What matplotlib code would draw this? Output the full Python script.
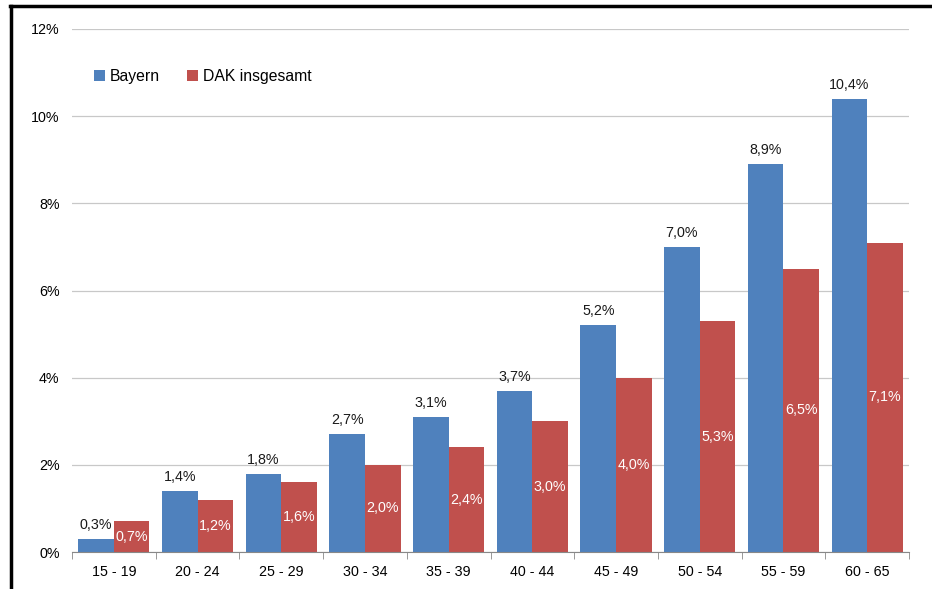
import matplotlib.pyplot as plt
import numpy as np
from matplotlib.lines import Line2D

plt.rcParams['font.family'] = ['Liberation Sans', 'DejaVu Sans']

# Daten
altersgruppen = ['15 - 19', '20 - 24', '25 - 29', '30 - 34', '35 - 39',
                 '40 - 44', '45 - 49', '50 - 54', '55 - 59', '60 - 65']
bayern = [0.3, 1.4, 1.8, 2.7, 3.1, 3.7, 5.2, 7.0, 8.9, 10.4]
dak = [0.7, 1.2, 1.6, 2.0, 2.4, 3.0, 4.0, 5.3, 6.5, 7.1]

blau = '#4F81BD'
rot = '#C0504D'

fig = plt.figure(figsize=(9.32, 5.89), dpi=100)
ax = fig.add_axes([72/932, 1 - 552/589, (909-72)/932, (552-29)/589])

x = np.arange(len(altersgruppen))
w = 0.425
b1 = ax.bar(x - w/2, bayern, w, color=blau, label='Bayern', zorder=3)
b2 = ax.bar(x + w/2, dak, w, color=rot, label='DAK insgesamt', zorder=3)

def fmt(v):
    return f'{v:.1f}%'.replace('.', ',')

for xi, v in zip(x, bayern):
    ax.annotate(fmt(v), (xi - w/2, v), xytext=(0, 5), textcoords='offset points',
                ha='center', va='bottom', fontsize=10.3, color='#1a1a1a')
for xi, v in zip(x, dak):
    ax.text(xi + w/2, v/2, fmt(v), ha='center', va='center', fontsize=10.3, color='white')

ax.set_xlim(-0.5, len(altersgruppen) - 0.5)
ax.set_ylim(0, 12)
ax.set_yticks(range(0, 13, 2))
ax.set_yticklabels([f'{t}%' for t in range(0, 13, 2)])
ax.yaxis.grid(True, color='#c8c8c8', linewidth=0.9, zorder=0)
ax.set_xticks(x)
ax.set_xticklabels(altersgruppen)
ax.set_xticks(np.arange(-0.5, len(altersgruppen)), minor=True)
ax.tick_params(axis='x', which='major', length=0, pad=9, labelsize=10.3)
ax.tick_params(axis='x', which='minor', length=5, color='#888888', direction='out')
ax.tick_params(axis='y', length=0, pad=9, labelsize=10.3)
for s in ['top', 'right', 'left']:
    ax.spines[s].set_visible(False)
ax.spines['bottom'].set_color('#888888')
ax.spines['bottom'].set_zorder(4)

ax.legend(loc='upper left', bbox_to_anchor=(0.01, 0.95), ncol=2, frameon=False,
          fontsize=11.3, handlelength=0.7, handleheight=0.7, handletextpad=0.3,
          columnspacing=1.7)

# Rahmen
fig.add_artist(Line2D([10/932, 1], [1 - 6/589, 1 - 6/589], color='black', linewidth=2.5,
                      transform=fig.transFigure))
fig.add_artist(Line2D([11/932, 11/932], [0, 1 - 6/589], color='black', linewidth=2.5,
                      transform=fig.transFigure))

plt.savefig('out.png', dpi=100)
